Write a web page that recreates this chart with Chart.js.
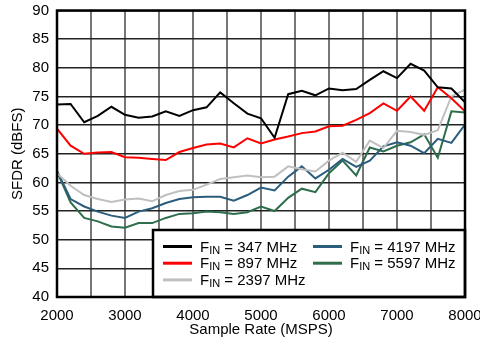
<!DOCTYPE html>
<html>
<head>
<meta charset="utf-8">
<title>SFDR vs Sample Rate</title>
<script src="https://cdn.jsdelivr.net/npm/chart.js@4.4.1/dist/chart.umd.min.js"></script>
<style>
  html, body { margin: 0; padding: 0; background: #fff; }
  #wrap { width: 480px; height: 343px; }
</style>
</head>
<body>
<div id="wrap"><canvas id="sfdr-chart" width="480" height="343"></canvas></div>
<script>
// Sample rates (MSPS)
const sampleRates = [2000, 2200, 2400, 2600, 2800, 3000, 3200, 3400, 3600, 3800,
  4000, 4200, 4400, 4600, 4800, 5000, 5200, 5400, 5600, 5800,
  6000, 6200, 6400, 6600, 6800, 7000, 7200, 7400, 7600, 7800, 8000];

// SFDR (dBFS) per input frequency
const sfdr347 = [73.6, 73.7, 70.5, 71.6, 73.2, 71.8, 71.3, 71.5, 72.4, 71.6,
  72.6, 73.1, 75.7, 73.8, 72.0, 71.2, 67.8, 75.4, 76.0, 75.2,
  76.4, 76.1, 76.3, 77.9, 79.4, 78.2, 80.7, 79.5, 76.6, 76.4, 74.0];
const sfdr897 = [69.4, 66.4, 65.0, 65.2, 65.3, 64.4, 64.3, 64.1, 63.9, 65.3,
  66.0, 66.6, 66.8, 66.1, 67.7, 66.8, 67.5, 68.0, 68.6, 68.9,
  69.8, 69.9, 70.9, 72.1, 73.8, 72.5, 75.0, 72.5, 76.6, 74.7, 72.4];
const sfdr2397 = [61.6, 59.4, 57.8, 57.1, 56.6, 57.0, 57.2, 56.7, 57.8, 58.5,
  58.7, 59.6, 60.6, 60.9, 61.2, 60.9, 61.0, 62.8, 62.3, 61.9,
  63.8, 65.2, 63.6, 67.3, 66.0, 69.0, 68.8, 68.3, 69.1, 75.0, 76.2];
const sfdr4197 = [62.0, 57.1, 55.8, 54.9, 54.2, 53.8, 54.9, 55.5, 56.4, 57.1,
  57.4, 57.5, 57.5, 56.8, 57.8, 59.1, 58.6, 61.0, 62.8, 60.7,
  62.2, 64.1, 62.7, 63.8, 66.3, 67.0, 66.4, 65.1, 67.6, 66.9, 70.1];
const sfdr5597 = [61.9, 56.5, 53.8, 53.2, 52.3, 52.1, 52.9, 52.9, 53.8, 54.5,
  54.6, 54.9, 54.8, 54.5, 54.8, 55.8, 55.0, 57.3, 58.9, 58.3,
  61.6, 63.8, 61.2, 66.1, 65.4, 66.4, 67.0, 68.4, 64.3, 72.4, 72.2];

const seriesLabels = ['347', '897', '2397', '4197', '5597'];
const seriesColors = ['#000000', '#ff0000', '#c0c0c0', '#2b5d7c', '#2e6e4c'];

const FONT = '"Liberation Sans", Arial, sans-serif';

function toPoints(values) {
  return values.map((v, i) => ({ x: sampleRates[i], y: v }));
}

// Draw "F" + subscript "IN" + " = xxx MHz"
function drawFinLabel(ctx, x, y, value) {
  ctx.fillStyle = '#000';
  ctx.textBaseline = 'alphabetic';
  ctx.textAlign = 'left';
  ctx.font = '15px ' + FONT;
  ctx.fillText('F', x, y);
  let w = ctx.measureText('F').width;
  ctx.font = '11px ' + FONT;
  ctx.fillText('IN', x + w, y + 2);
  w += ctx.measureText('IN').width;
  ctx.font = '15px ' + FONT;
  ctx.fillText(' = ' + value + ' MHz', x + w, y);
}

// Frame around the plot plus the boxed legend in the bottom right corner
const framePlugin = {
  id: 'frameAndLegend',
  afterDraw(chart) {
    const ctx = chart.ctx;
    const area = chart.chartArea;
    ctx.save();

    // legend box
    const boxLeft = area.left + 96;
    const boxTop = area.bottom - 67;
    ctx.fillStyle = '#fff';
    ctx.fillRect(boxLeft, boxTop, area.right - boxLeft, area.bottom - boxTop);
    ctx.strokeStyle = '#000';
    ctx.lineWidth = 2.5;
    ctx.strokeRect(boxLeft, boxTop, area.right - boxLeft, area.bottom - boxTop);

    const rows = [
      { col: 0, row: 0, i: 0 },
      { col: 0, row: 1, i: 1 },
      { col: 0, row: 2, i: 2 },
      { col: 1, row: 0, i: 3 },
      { col: 1, row: 1, i: 4 }
    ];
    rows.forEach(r => {
      const lineX = boxLeft + 10 + r.col * 150;
      const baseY = boxTop + 21.5 + r.row * 16.7;
      ctx.strokeStyle = seriesColors[r.i];
      ctx.lineWidth = 3;
      ctx.beginPath();
      ctx.moveTo(lineX, baseY - 5);
      ctx.lineTo(lineX + 29, baseY - 5);
      ctx.stroke();
      drawFinLabel(ctx, lineX + 37, baseY, seriesLabels[r.i]);
    });

    // plot frame
    ctx.strokeStyle = '#000';
    ctx.lineWidth = 2.5;
    ctx.strokeRect(area.left, area.top, area.right - area.left, area.bottom - area.top);
    ctx.restore();
  }
};

const datasets = [sfdr347, sfdr897, sfdr2397, sfdr4197, sfdr5597].map((values, i) => ({
  label: 'FIN = ' + seriesLabels[i] + ' MHz',
  data: toPoints(values),
  borderColor: seriesColors[i],
  backgroundColor: seriesColors[i],
  borderWidth: 2,
  pointRadius: 0,
  tension: 0,
  fill: false,
  order: i
}));

new Chart(document.getElementById('sfdr-chart').getContext('2d'), {
  type: 'line',
  data: { datasets: datasets },
  options: {
    responsive: false,
    animation: false,
    layout: { padding: { top: 10.5, right: 15, left: 0, bottom: 0 } },
    plugins: {
      legend: { display: false },
      tooltip: { enabled: false }
    },
    scales: {
      x: {
        type: 'linear',
        min: 2000,
        max: 8000,
        afterFit(scale) {
          scale.height = 46;
          scale.paddingLeft = 0;
          scale.paddingRight = 0;
        },
        grid: { color: '#777', lineWidth: 2, drawTicks: false },
        border: { display: false },
        ticks: {
          stepSize: 500,
          padding: 10,
          color: '#000',
          font: { family: FONT, size: 15 },
          maxRotation: 0,
          autoSkip: false,
          callback: v => (v % 1000 === 0 ? String(v) : '')
        },
        title: {
          display: true,
          text: 'Sample Rate (MSPS)',
          color: '#000',
          font: { family: FONT, size: 15 },
          padding: { top: 0, bottom: 4 }
        }
      },
      y: {
        min: 40,
        max: 90,
        afterFit(scale) {
          scale.width = 57;
          scale.paddingTop = 0;
          scale.paddingBottom = 0;
        },
        grid: { color: '#222', lineWidth: 1.5, drawTicks: false },
        border: { display: false },
        ticks: {
          stepSize: 5,
          padding: 8,
          color: '#000',
          font: { family: FONT, size: 15 }
        },
        title: {
          display: true,
          text: 'SFDR (dBFS)',
          color: '#000',
          font: { family: FONT, size: 15 },
          padding: { top: 9, bottom: 0 }
        }
      }
    }
  },
  plugins: [framePlugin]
});
</script>
</body>
</html>
